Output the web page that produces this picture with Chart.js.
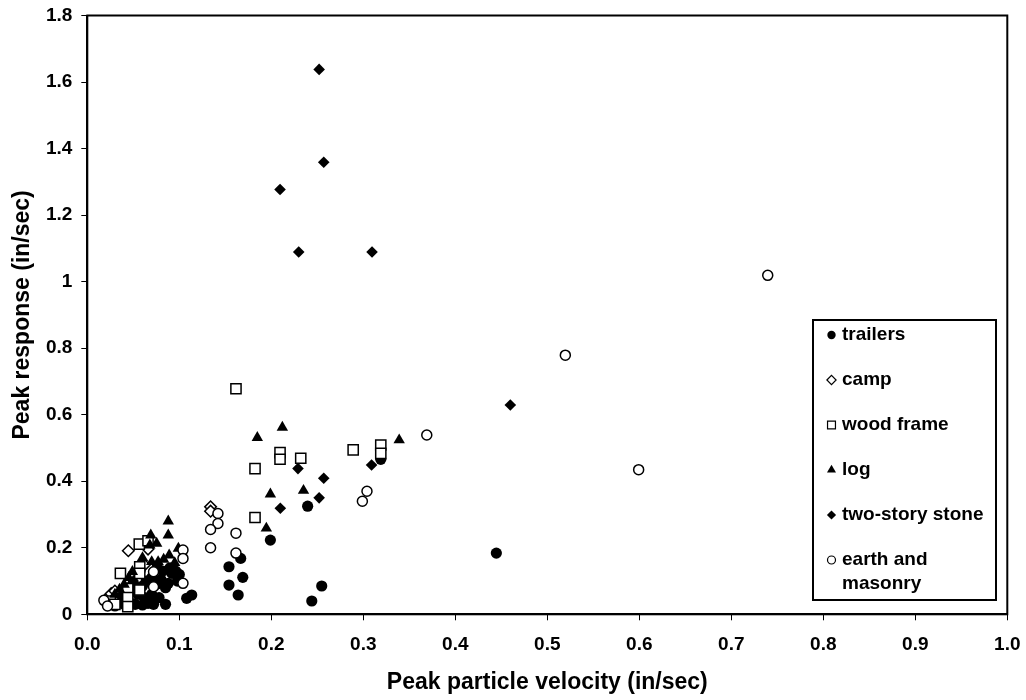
<!DOCTYPE html>
<html>
<head>
<meta charset="utf-8">
<script src="https://cdn.jsdelivr.net/npm/chart.js@4/dist/chart.umd.min.js"></script>
<style>
html,body{margin:0;padding:0;background:#fff;}
canvas{display:block;}
</style>
</head>
<body>
<canvas id="c" width="1026" height="700"></canvas>
<script>
// ---------- data ----------
const seriesNames = ['trailers', 'camp', 'wood frame', 'log', 'two-story stone', 'earth and masonry'];

const trailers = [
  [0.4446,0.184],[0.319,0.466],[0.2395,0.325],[0.199,0.223],[0.1667,0.168],[0.154,0.143],
  [0.169,0.111],[0.154,0.088],[0.164,0.058],[0.2548,0.085],[0.244,0.040],[0.1135,0.058],
  [0.108,0.048],[0.085,0.030],[0.066,0.033],[0.060,0.028],[0.052,0.030],[0.045,0.040],
  [0.040,0.030],[0.035,0.040],[0.030,0.025],[0.027,0.032],[0.032,0.050],[0.040,0.060],
  [0.046,0.080],[0.050,0.095],[0.055,0.060],[0.062,0.050],[0.070,0.060],[0.075,0.090],
  [0.080,0.105],[0.085,0.080],[0.088,0.093],[0.090,0.140],[0.092,0.123],[0.096,0.130],
  [0.100,0.120],[0.082,0.130],[0.076,0.142],[0.070,0.110],[0.064,0.100],[0.060,0.085],
  [0.078,0.050],[0.098,0.100],[0.072,0.030]
];
const camp = [
  [0.134,0.323],[0.134,0.310],[0.0446,0.191],[0.066,0.196],[0.062,0.148],
  [0.022,0.050],[0.026,0.062],[0.030,0.070],[0.028,0.045]
];
const woodFrame = [
  [0.1616,0.678],[0.2095,0.486],[0.2095,0.466],[0.232,0.469],[0.1823,0.438],[0.289,0.494],
  [0.319,0.509],[0.319,0.484],[0.1823,0.291],[0.0565,0.211],[0.066,0.221],[0.036,0.123],
  [0.057,0.143],[0.057,0.123],[0.057,0.073],[0.044,0.078],[0.044,0.050],[0.044,0.023],
  [0.025,0.040],[0.030,0.030]
];
const logHomes = [
  [0.1848,0.531],[0.212,0.562],[0.199,0.361],[0.235,0.372],[0.1946,0.2585],[0.339,0.524],
  [0.088,0.280],[0.088,0.238],[0.069,0.238],[0.0754,0.213],[0.068,0.208],[0.099,0.198],
  [0.089,0.178],[0.070,0.158],[0.077,0.158],[0.049,0.128],[0.060,0.170],[0.083,0.165],
  [0.095,0.155],[0.050,0.100],[0.040,0.090],[0.035,0.075],[0.030,0.060],[0.045,0.110]
];
const twoStoryStone = [
  [0.252,1.638],[0.257,1.359],[0.2095,1.277],[0.2298,1.089],[0.3095,1.089],[0.4598,0.629],
  [0.229,0.438],[0.257,0.409],[0.252,0.350],[0.2098,0.319],[0.309,0.449]
];
const earthMasonry = [
  [0.7396,1.019],[0.5196,0.779],[0.369,0.539],[0.5993,0.4347],[0.304,0.370],[0.299,0.340],
  [0.142,0.303],[0.142,0.273],[0.134,0.255],[0.134,0.200],[0.1616,0.244],[0.1616,0.184],
  [0.104,0.193],[0.104,0.168],[0.104,0.093],[0.072,0.128],[0.072,0.083],[0.018,0.042],
  [0.022,0.025]
];

const xTickValues = [0,0.1,0.2,0.3,0.4,0.5,0.6,0.7,0.8,0.9,1.0];
const xTickLabels = ['0.0','0.1','0.2','0.3','0.4','0.5','0.6','0.7','0.8','0.9','1.0'];
const yTickValues = [0,0.2,0.4,0.6,0.8,1.0,1.2,1.4,1.6,1.8];
const yTickLabels = ['0','0.2','0.4','0.6','0.8','1','1.2','1.4','1.6','1.8'];

const xTitle = 'Peak particle velocity (in/sec)';
const yTitle = 'Peak response (in/sec)';

// ---------- styles ----------
const FONT = "'Liberation Sans', Arial, Helvetica, sans-serif";
const seriesData = [trailers, camp, woodFrame, logHomes, twoStoryStone, earthMasonry];
const seriesStyle = [
  {pointStyle:'circle',  radius:5.6, fill:'#000', border:'#000', bw:0,   lr:4.2, lbw:0},
  {pointStyle:'rectRot', radius:5.8, fill:'#fff', border:'#000', bw:1.5, lr:4.6, lbw:1.2},
  {pointStyle:'rect',    radius:7.2, fill:'#fff', border:'#000', bw:1.5, lr:5.6, lbw:1.2},
  {pointStyle:'triangle',radius:6.6, fill:'#000', border:'#000', bw:0,   lr:5.2, lbw:0},
  {pointStyle:'rectRot', radius:5.8, fill:'#000', border:'#000', bw:0,   lr:4.6, lbw:0},
  {pointStyle:'circle',  radius:5.0, fill:'#fff', border:'#000', bw:1.5, lr:4.0, lbw:1.2}
];

const datasets = seriesNames.map((name, i) => ({
  label: name,
  data: seriesData[i].map(p => ({x: p[0], y: p[1]})),
  showLine: false,
  pointStyle: seriesStyle[i].pointStyle,
  pointRadius: seriesStyle[i].radius,
  pointHoverRadius: seriesStyle[i].radius,
  pointBackgroundColor: seriesStyle[i].fill,
  pointBorderColor: seriesStyle[i].border,
  pointBorderWidth: seriesStyle[i].bw,
  pointHoverBorderWidth: seriesStyle[i].bw,
  order: seriesNames.length - i,
  clip: false
}));

// frame around the plot area
const framePlugin = {
  id: 'frame',
  beforeDatasetsDraw(chart) {
    const {ctx, chartArea: a} = chart;
    ctx.save();
    ctx.strokeStyle = '#000';
    ctx.lineWidth = 2;
    ctx.strokeRect(a.left, a.top, a.right - a.left, a.bottom - a.top);
    ctx.restore();
  }
};

// boxed legend inside the plot area
const legendPlugin = {
  id: 'boxLegend',
  afterDraw(chart) {
    const {ctx} = chart;
    const box = {x: 813, y: 320, w: 183, h: 280};
    const markerX = 831.5, textX = 842, firstRow = 335, rowGap = 45, lineGap = 23.5, maxW = 148;
    ctx.save();
    ctx.fillStyle = '#fff';
    ctx.fillRect(box.x, box.y, box.w, box.h);
    ctx.strokeStyle = '#000';
    ctx.lineWidth = 2;
    ctx.strokeRect(box.x, box.y, box.w, box.h);
    ctx.font = 'bold 19px ' + FONT;
    ctx.textBaseline = 'middle';
    ctx.textAlign = 'left';
    chart.data.datasets.forEach((ds, i) => {
      const st = seriesStyle[i];
      const y = firstRow + i * rowGap;
      ctx.fillStyle = st.fill;
      ctx.strokeStyle = st.border;
      ctx.lineWidth = st.lbw;
      Chart.helpers.drawPoint(ctx, {pointStyle: st.pointStyle, radius: st.lr, rotation: 0, borderWidth: st.lbw}, markerX, y);
      const words = ds.label.split(' ');
      const lines = [];
      let cur = '';
      words.forEach(w => {
        const t = cur ? cur + ' ' + w : w;
        if (ctx.measureText(t).width > maxW && cur) { lines.push(cur); cur = w; } else { cur = t; }
      });
      lines.push(cur);
      ctx.fillStyle = '#000';
      lines.forEach((ln, k) => ctx.fillText(ln, textX, y + k * lineGap));
    });
    ctx.restore();
  }
};

Chart.defaults.font.family = FONT;
Chart.defaults.color = '#000';

new Chart(document.getElementById('c'), {
  type: 'scatter',
  data: {datasets},
  options: {
    responsive: false,
    animation: false,
    events: [],
    layout: {padding: {top: 15.5, right: 18.7, bottom: 0, left: 0}},
    plugins: {legend: {display: false}, tooltip: {enabled: false}},
    scales: {
      x: {
        type: 'linear', position: 'bottom', min: 0, max: 1,
        afterBuildTicks: s => { s.ticks = xTickValues.map(v => ({value: v})); },
        afterFit: s => { s.height = 85.7; s.paddingLeft = 0; s.paddingRight = 0; },
        ticks: {
          callback: (v, i) => xTickLabels[i],
          font: {size: 19, weight: 'bold'}, color: '#000', padding: 13,
          autoSkip: false, maxRotation: 0
        },
        grid: {drawOnChartArea: false, drawTicks: true, tickLength: 6, color: '#000', lineWidth: 1},
        border: {display: true, color: '#000', width: 2},
        title: {display: true, text: xTitle, font: {size: 23, weight: 'bold'}, color: '#000', padding: {top: 0, bottom: 4}}
      },
      y: {
        type: 'linear', position: 'left', min: 0, max: 1.8,
        afterBuildTicks: s => { s.ticks = yTickValues.map(v => ({value: v})); },
        afterFit: s => { s.width = 87.3; s.paddingTop = 0; s.paddingBottom = 0; },
        ticks: {
          callback: (v, i) => yTickLabels[i],
          font: {size: 19, weight: 'bold'}, color: '#000', padding: 9,
          autoSkip: false
        },
        grid: {drawOnChartArea: false, drawTicks: true, tickLength: 6, color: '#000', lineWidth: 1},
        border: {display: true, color: '#000', width: 2},
        title: {display: true, text: yTitle, font: {size: 23, weight: 'bold'}, color: '#000', padding: {top: 9, bottom: 0}}
      }
    }
  },
  plugins: [framePlugin, legendPlugin]
});
</script>
</body>
</html>
